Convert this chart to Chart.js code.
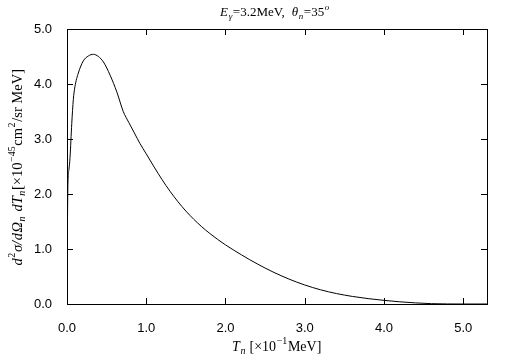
<!DOCTYPE html>
<html>
<head>
<meta charset="utf-8">
<script src="https://cdn.jsdelivr.net/npm/chart.js@4/dist/chart.umd.min.js"></script>
<style>
html,body{margin:0;padding:0;background:#fff;}
canvas{display:block;}
</style>
</head>
<body>
<canvas id="c" width="505" height="361"></canvas>
<script>
// Data
const tValues = [0.005, 0.012, 0.025, 0.038, 0.06, 0.08, 0.10, 0.143, 0.206, 0.27, 0.333, 0.396, 0.46, 0.544, 0.63, 0.71, 0.78, 0.85, 0.92, 1.0, 1.1, 1.2, 1.3, 1.4, 1.5, 1.6, 1.7, 1.8, 1.9, 2.0, 2.2, 2.4, 2.6, 2.8, 3.0, 3.2, 3.4, 3.6, 3.8, 4.0, 4.2, 4.4, 4.6, 4.8, 5.0, 5.3];
const sigmaValues = [1.37, 2.20, 2.45, 2.66, 3.28, 3.72, 3.95, 4.20, 4.42, 4.51, 4.54, 4.50, 4.40, 4.16, 3.85, 3.50, 3.30, 3.11, 2.92, 2.73, 2.49, 2.26, 2.05, 1.86, 1.69, 1.54, 1.405, 1.285, 1.175, 1.075, 0.895, 0.73, 0.582, 0.454, 0.346, 0.258, 0.19, 0.138, 0.098, 0.066, 0.04, 0.02, 0.006, 0.001, 0.0, 0.0];
const xTickValues = [0, 1, 2, 3, 4, 5];
const yTickValues = [0, 1, 2, 3, 4, 5];

const titleSegs = [
  {t:'E', i:true}, {t:'γ', i:true, sub:true}, {t:'=3.2MeV,  '}, {t:'θ', i:true}, {t:'n', i:true, sub:true}, {t:'=35'}, {t:'o', i:true, sup:true}
];
const xTitleSegs = [
  {t:'T', i:true}, {t:'n', i:true, sub:true}, {t:' [×10'}, {t:'−1', sup:true}, {t:'MeV]'}
];
const yTitleSegs = [
  {t:'d', i:true}, {t:'2', sup:true}, {t:'σ/', i:true}, {t:'d', i:true}, {t:'Ω', i:true}, {t:'n', i:true, sub:true}, {t:' '}, {t:'dT', i:true}, {t:'n', i:true, sub:true}, {t:'[×10'}, {t:'−45', sup:true}, {t:'cm'}, {t:'2', sup:true}, {t:'/sr MeV]'}
];

function fontFor(seg, size){
  const s = (seg.sub||seg.sup) ? Math.round(size*0.72) : size;
  return (seg.i ? 'italic ' : '') + s + 'px "Liberation Serif", "DejaVu Serif", serif';
}
function drawRich(ctx, segs, cx, cy, size, rot){
  ctx.save();
  ctx.translate(cx, cy);
  if (rot) ctx.rotate(rot);
  let total = 0;
  const gap = 0.6;
  const widths = segs.map(s => { ctx.font = fontFor(s, size); const w = ctx.measureText(s.t).width + gap; total += w; return w; });
  let x = -total/2;
  ctx.fillStyle = '#000';
  ctx.textBaseline = 'middle';
  ctx.textAlign = 'left';
  segs.forEach((s, k) => {
    ctx.font = fontFor(s, size);
    let dy = 0;
    if (s.sub) dy = size*0.28;
    if (s.sup) dy = -size*0.38;
    ctx.fillText(s.t, x, dy);
    x += widths[k];
  });
  ctx.restore();
}

const framePlugin = {
  id: 'frame',
  afterDraw(chart){
    const ctx = chart.ctx;
    const a = chart.chartArea;
    const xs = chart.scales.x, ys = chart.scales.y;
    ctx.save();
    ctx.strokeStyle = '#000';
    ctx.lineWidth = 1;
    ctx.strokeRect(Math.round(a.left)+0.5, Math.round(a.top)+0.5, Math.round(a.right-a.left), Math.round(a.bottom-a.top));
    const L = 6;
    ctx.beginPath();
    xTickValues.forEach(v => {
      const px = Math.round(xs.getPixelForValue(v)) + 0.5;
      ctx.moveTo(px, a.bottom); ctx.lineTo(px, a.bottom - L);
      ctx.moveTo(px, a.top); ctx.lineTo(px, a.top + L);
    });
    yTickValues.forEach(v => {
      const py = Math.round(ys.getPixelForValue(v)) + 0.5;
      ctx.moveTo(a.left, py); ctx.lineTo(a.left + L, py);
      ctx.moveTo(a.right, py); ctx.lineTo(a.right - L, py);
    });
    ctx.stroke();
    ctx.restore();
    drawRich(ctx, titleSegs, 275, 13, 13, 0);
    drawRich(ctx, xTitleSegs, 277, 347, 14, 0);
    drawRich(ctx, yTitleSegs, 18, 167, 14.5, -Math.PI/2);
  }
};

new Chart(document.getElementById('c'), {
  type: 'line',
  data: {
    datasets: [{
      data: tValues.map((t, k) => ({x: t, y: sigmaValues[k]})),
      borderColor: '#000',
      borderWidth: 1,
      pointRadius: 0,
      fill: false,
      cubicInterpolationMode: 'monotone'
    }]
  },
  options: {
    responsive: false,
    animation: false,
    layout: {padding: {left: 0, top: 29, right: 18, bottom: 0}},
    plugins: {legend: {display: false}, tooltip: {enabled: false}, title: {display: false}},
    scales: {
      x: {
        type: 'linear', min: 0, max: 5.3,
        afterBuildTicks: s => { s.ticks = xTickValues.map(v => ({value: v})); },
        afterFit: s => { s.height = 57; },
        grid: {display: false}, border: {display: false},
        ticks: {padding: 9, color: '#000', font: {family: '"Liberation Sans", Arial, sans-serif', size: 13}, callback: v => Number(v).toFixed(1), maxRotation: 0}
      },
      y: {
        type: 'linear', min: 0, max: 5,
        afterBuildTicks: s => { s.ticks = yTickValues.map(v => ({value: v})); },
        afterFit: s => { s.width = 67; },
        grid: {display: false}, border: {display: false},
        ticks: {padding: 7, color: '#000', font: {family: '"Liberation Sans", Arial, sans-serif', size: 13}, callback: v => Number(v).toFixed(1)}
      }
    }
  },
  plugins: [framePlugin]
});
</script>
</body>
</html>
